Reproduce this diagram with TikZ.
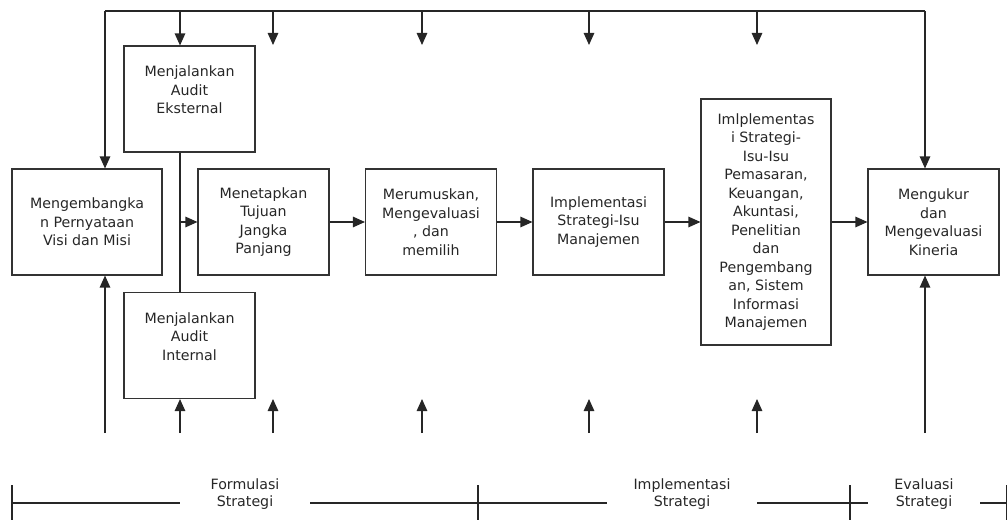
\documentclass[tikz,border=0pt]{standalone}
\usepackage{fontspec}
\setmainfont{DejaVu Sans}
\usepackage{tikz}
\usetikzlibrary{arrows.meta, positioning}
\tikzstyle{box} = [rectangle, minimum width=131pt, minimum height=106pt, inner sep=0pt, align=center, draw=black!80, line width=1.1pt, font=\fontsize{14.2}{18.5}\selectfont, text=black!85]
\tikzstyle{widebox} = [box, minimum width=150pt]
\tikzstyle{tallbox} = [box, minimum width=130pt, minimum height=246pt]
\tikzstyle{arrow} = [line width=1.2pt, draw=black!85, -{Triangle[length=12pt,width=10.5pt]}]
\tikzstyle{line} = [line width=1.2pt, draw=black!85]
\tikzstyle{phase} = [minimum height=34pt, inner sep=0pt, align=center, font=\fontsize{14.2}{17}\selectfont, text=black!85]

\begin{document}
\begin{tikzpicture}[x=1pt, y=1pt, node distance=167.5pt]
\useasboundingbox (0,0) rectangle (1007,520);

\node (visi) [widebox] at (87,298) {Mengembangka\\n Pernyataan\\Visi dan Misi};
\node (tujuan) [box, right of=visi, xshift=9pt] {Menetapkan\\Tujuan\\Jangka\\Panjang};
\node (rumus) [box, right of=tujuan] {Merumuskan,\\Mengevaluasi\\, dan\\memilih};
\node (manaj) [box, right of=rumus] {Implementasi\\Strategi-Isu\\Manajemen};
\node (fungsi) [tallbox, right of=manaj] {Imlplementas\\i Strategi-\\Isu-Isu\\Pemasaran,\\Keuangan,\\Akuntasi,\\Penelitian\\dan\\Pengembang\\an, Sistem\\Informasi\\Manajemen};
\node (kinerja) [box, right of=fungsi] {Mengukur\\dan\\Mengevaluasi\\Kineria};

\node (eksternal) [box] at (189.5,421) {Menjalankan\\Audit\\Eksternal\\~};
\node (internal) [box] at (189.5,174.5) {Menjalankan\\Audit\\Internal\\~};

% feedback line on top, inputs from below
\coordinate (tl) at (105,509);
\coordinate (tr) at (925,509);
\coordinate (bl) at (105,87);
\coordinate (br) at (925,87);
\draw [line] (tl) -- (tr);
\draw [arrow] (tl) -- (visi.north -| tl);
\draw [arrow] (tr) -- (kinerja.north -| tr);
\draw [arrow] (bl) -- (visi.south -| bl);
\draw [arrow] (br) -- (kinerja.south -| br);

\coordinate (audit) at (180,509);
\coordinate (auditin) at (180,87);
\draw [arrow] (audit) -- (eksternal.north -| audit);
\draw [arrow] (auditin) -- (internal.south -| auditin);
\draw [line] (eksternal.south -| audit) -- (internal.north -| audit);
\draw [arrow] (tujuan.west -| audit) -- (tujuan.west);

\foreach \x [count=\i] in {273,422,589,757} {
  \coordinate (down\i) at (\x,509);
  \coordinate (downend\i) at (\x,475);
  \coordinate (up\i) at (\x,87);
  \coordinate (upend\i) at (\x,121);
  \draw [arrow] (down\i) -- (downend\i);
  \draw [arrow] (up\i) -- (upend\i);
}

\draw [arrow] (tujuan) -- (rumus);
\draw [arrow] (rumus) -- (manaj);
\draw [arrow] (manaj) -- (fungsi);
\draw [arrow] (fungsi) -- (kinerja);

% phases
\coordinate (t0) at (12,17);
\coordinate (t1) at (478,17);
\coordinate (t2) at (850,17);
\coordinate (t3) at (1006.5,17);
\foreach \t in {t0,t1,t2,t3}
  \draw [line] ([yshift=18pt]\t) -- ([yshift=-17pt]\t);

\node (formulasi) [phase, minimum width=130pt] at (245,26) {Formulasi\\Strategi};
\node (implementasi) [phase, minimum width=150pt] at (682,26) {Implementasi\\Strategi};
\node (evaluasi) [phase, minimum width=112pt] at (924,26) {Evaluasi\\Strategi};

\draw [line] (t0) -- (t0 -| formulasi.west);
\draw [line] (t0 -| formulasi.east) -- (t1);
\draw [line] (t1) -- (t1 -| implementasi.west);
\draw [line] (t1 -| implementasi.east) -- (t2);
\draw [line] (t2) -- (t2 -| evaluasi.west);
\draw [line] (t2 -| evaluasi.east) -- (t3);
\end{tikzpicture}
\end{document}
